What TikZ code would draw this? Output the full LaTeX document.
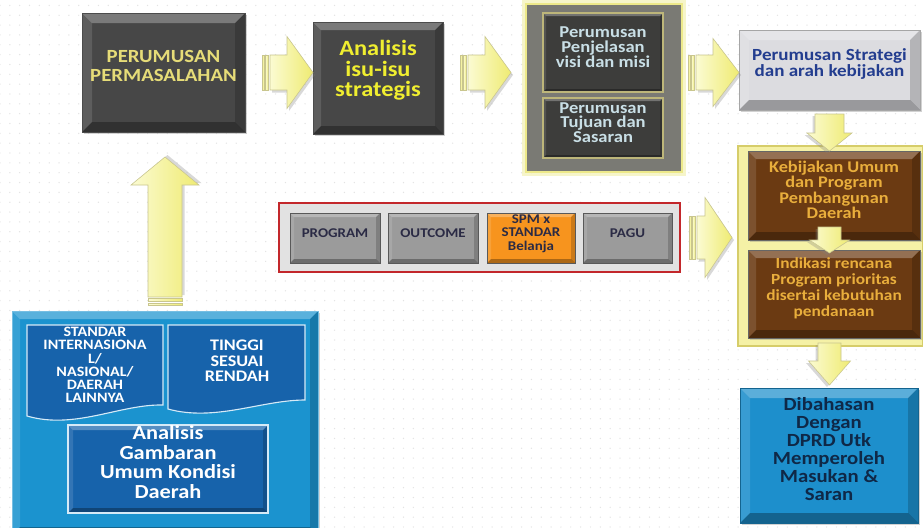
\documentclass[tikz,border=0pt]{standalone}
\usepackage{fontspec}
\setmainfont{Carlito}[FakeStretch=1.12]
\usetikzlibrary{fit,calc,patterns.meta,shadows}

\definecolor{darkbox}{HTML}{474747}
\definecolor{permtext}{HTML}{E6DC78}
\definecolor{isutext}{HTML}{F0EE30}
\definecolor{groupgrey}{HTML}{7A7A74}
\definecolor{glowyellow}{HTML}{EDE98A}
\definecolor{visibox}{HTML}{3D3D3B}
\definecolor{visiedge}{HTML}{BDB67A}
\definecolor{visitext}{HTML}{C9DFE6}
\definecolor{stratbox}{HTML}{DCDCE0}
\definecolor{strattext}{HTML}{233D8F}
\definecolor{kebgroup}{HTML}{F5F1A6}
\definecolor{kebedge}{HTML}{D6CD6A}
\definecolor{brownbox}{HTML}{6B3A12}
\definecolor{kebtext}{HTML}{E9AE3C}
\definecolor{dprdbox}{HTML}{1D8FCC}
\definecolor{dprdtext}{HTML}{0F2847}
\definecolor{redframe}{HTML}{C3272B}
\definecolor{redfill}{HTML}{E2E2E2}
\definecolor{greybtn}{HTML}{9B9B9B}
\definecolor{btntext}{HTML}{2B2B45}
\definecolor{orangebtn}{HTML}{F7941E}
\definecolor{bigblue}{HTML}{1B93CF}
\definecolor{deepblue}{HTML}{1763AB}
\definecolor{paleedge}{HTML}{D5EAF7}
\definecolor{arrowlight}{HTML}{FBFBD2}
\definecolor{arrowdark}{HTML}{EFEB72}
\definecolor{arrowedge}{HTML}{C9C68E}

% faint dotted paper
\tikzdeclarepattern{
  name=sparsedots,
  type=uncolored,
  bounding box={(-3.5pt,-3.5pt) and (3.5pt,3.5pt)},
  tile size={(7pt,7pt)},
  code={\fill (0pt,0pt) circle [radius=0.5pt];}
}

% light top/left and dark bottom/right edges inside a box
\newcommand\bevelpaint[1]{%
  \path (path picture bounding box.north west) coordinate (pNW)
        (path picture bounding box.north east) coordinate (pNE)
        (path picture bounding box.south west) coordinate (pSW)
        (path picture bounding box.south east) coordinate (pSE);
  \fill[white,opacity=.28] (pNW) -- (pNE) -- ([shift={(-#1,#1)}]pNE) -- ([shift={(#1,#1)}]pNW) -- cycle;
  \fill[white,opacity=.12] (pNW) -- ([shift={(#1,#1)}]pNW) -- ([shift={(#1,-#1)}]pSW) -- (pSW) -- cycle;
  \fill[black,opacity=.30] (pSW) -- ([shift={(#1,-#1)}]pSW) -- ([shift={(-#1,-#1)}]pSE) -- (pSE) -- cycle;
  \fill[black,opacity=.18] (pNE) -- (pSE) -- ([shift={(-#1,-#1)}]pSE) -- ([shift={(-#1,#1)}]pNE) -- cycle;
}

% yellow block arrow: tip, rotation, body length, head length,
% head half-width, shaft half-width, tail stripes (0/1)
\newcommand\blockarrow[7]{%
  \begin{scope}[shift={(#1)}, rotate=#2]
    \fill[gray, opacity=.3, shift={(2,2.5)}]
      (0,0) -- ++(-#4,-#5) -- ++(0,#5-#6) -- ++(-#3+#4,0) -- ++(0,2*#6)
      -- ++(#3-#4,0) -- ++(0,#5-#6) -- cycle;
    \path[arrowbody]
      (0,0) -- ++(-#4,-#5) -- ++(0,#5-#6) -- ++(-#3+#4,0) -- ++(0,2*#6)
      -- ++(#3-#4,0) -- ++(0,#5-#6) -- cycle;
    \ifnum#7>0
      \path[arrowbody] (-#3-1.5,-#6) rectangle (-#3-4.5,#6);
      \path[arrowbody] (-#3-6,-#6) rectangle (-#3-8,#6);
    \fi
  \end{scope}}

\begin{document}
\begin{tikzpicture}[x=0.25mm, y=-0.25mm,
  box/.style={inner sep=0pt, outer sep=0pt, align=center},
  bevel/.style={path picture={\bevelpaint{#1}}},
  shadowed/.style={drop shadow={shadow xshift=1.5pt, shadow yshift=-1.5pt, opacity=.35}},
  arrowbody/.style={left color=arrowlight, right color=arrowdark, draw=arrowedge, line width=0.4pt},
  btn/.style={box, fill=greybtn, draw=gray!70!black, line width=0.3pt, bevel=4, text=btntext,
    font=\fontsize{9.5}{9.6}\selectfont\bfseries},
  doc/.style={fill=deepblue, draw=paleedge, line width=0.8pt},
]
\useasboundingbox (0,0) rectangle (923,527);
\fill[white] (0,0) rectangle (923,527);
\fill[pattern=sparsedots, pattern color=gray!22] (0,0) rectangle (923,527);

% ---------- top row ----------
\node[box, shadowed, fit={(82,13) (245,132)}, fill=darkbox, draw=black!70, line width=0.4pt,
      bevel=10, text=permtext, font=\fontsize{13.2}{13.5}\selectfont\bfseries]
      (perm) {PERUMUSAN\\PERMASALAHAN};

\node[box, shadowed, fit={(313,22) (443,134)}, fill=darkbox, draw=black!70, line width=0.4pt,
      bevel=8, text=isutext, font=\fontsize{15.5}{14.5}\selectfont\bfseries]
      (isu) {Analisis\\isu-isu\\strategis};

\node[box, fit={(526,4) (682,172)}, fill=groupgrey, draw=glowyellow, line width=1.5pt,
      preaction={draw=glowyellow, line width=6pt, opacity=.45}]
      (visigroup) {};
\node[box, fit={(543,13) (663,92)}, fill=visibox, draw=visiedge, line width=0.8pt,
      bevel=3, text=visitext, font=\fontsize{11.8}{10.7}\selectfont\bfseries]
      (visi) {Perumusan\\Penjelasan\\visi dan misi};
\node[box, fit={(543,98) (663,158)}, fill=visibox, draw=visiedge, line width=0.8pt,
      bevel=3, text=visitext, font=\fontsize{11.8}{10.4}\selectfont\bfseries]
      (tujuan) {Perumusan\\Tujuan dan\\Sasaran};

\node[box, shadowed, fit={(739,30) (920,110)}, fill=stratbox, draw=gray!70, line width=0.5pt,
      bevel=10, text=strattext, font=\fontsize{12.1}{11.4}\selectfont\bfseries]
      (strat) {Perumusan Strategi\\dan arah kebijakan};

% ---------- right column ----------
\node[box, fit={(738,146) (923,346)}, fill=kebgroup, draw=kebedge, line width=0.8pt]
      (kebgroup) {};
\node[box, shadowed, fit={(748,151) (920,240)}, fill=brownbox, draw=black!60, line width=0.4pt,
      bevel=8, text=kebtext, font=\fontsize{11.6}{10.8}\selectfont\bfseries]
      (keb) {Kebijakan Umum\\dan Program\\Pembangunan\\Daerah};
\node[box, shadowed, fit={(748,250) (920,338)}, fill=brownbox, draw=black!60, line width=0.4pt,
      bevel=8, text=kebtext, font=\fontsize{11}{11.4}\selectfont\bfseries]
      (indikasi) {Indikasi rencana\\Program prioritas\\disertai kebutuhan\\pendanaan};

\node[box, shadowed, fit={(740,388) (918,523)}, fill=dprdbox, draw=dprdbox!70!black, line width=0.4pt,
      bevel=10, text=dprdtext, font=\fontsize{13.2}{12.9}\selectfont\bfseries]
      (dprd) {Dibahasan\\Dengan\\DPRD Utk\\Memperoleh\\Masukan \&\\Saran};

% ---------- middle row ----------
\node[box, fit={(279,203) (680,272)}, fill=redfill, draw=redframe, line width=1.4pt]
      (belanja) {};
\node[btn, fit={(290,213) (380,263)}] (program) {PROGRAM};
\node[btn, fit={(388,213) (478,263)}] (outcome) {OUTCOME};
\node[btn, fit={(487,213) (575,263)}, fill=orangebtn] (spm) {SPM x\\STANDAR\\Belanja};
\node[btn, fit={(583,213) (672,263)}] (pagu) {PAGU};

% ---------- lower left ----------
\node[box, shadowed, fit={(12,311) (318,535)}, fill=bigblue, draw=bigblue!60!white, line width=0.6pt,
      bevel=8] (kondisi) {};

\draw[doc] (27,325) -- (163,325) -- (163,405)
  .. controls (120,404) and (75,430) .. (27,416) -- cycle;
\node[box, text=white, font=\fontsize{10.2}{9.4}\selectfont\bfseries]
  (standar) at (95,365) {STANDAR\\INTERNASIONA\\L/\\NASIONAL/\\DAERAH\\LAINNYA};

\draw[doc] (168,325) -- (305,325) -- (305,400)
  .. controls (262,400) and (215,422) .. (168,409) -- cycle;
\node[box, text=white, font=\fontsize{11.5}{11}\selectfont\bfseries]
  (tinggi) at (237,361) {TINGGI\\SESUAI\\RENDAH};

\node[box, fit={(68,425) (268,513)}, doc, bevel=5, text=white,
      font=\fontsize{14.2}{14}\selectfont\bfseries]
      (gambaran) {Analisis\\Gambaran\\Umum Kondisi\\Daerah};

% ---------- block arrows ----------
\blockarrow{isu.west |- perm.east}{0}{43}{26}{36}{17.5}{1}
\blockarrow{$(visigroup.west |- perm.east)+(-15,0)$}{0}{43}{26}{36}{17.5}{1}
\blockarrow{strat.west |- perm.east}{0}{43}{26}{34}{17.5}{1}
\blockarrow{$(kebgroup.west |- belanja.east)+(-6,0)$}{0}{35}{27}{40}{21.5}{1}
\blockarrow{strat.south |- keb.north}{-90}{37}{18}{22.5}{14.5}{0}
\blockarrow{$(strat.south |- indikasi.north)+(0,3)$}{-90}{26}{13}{20}{11.5}{0}
\blockarrow{$(strat.south |- dprd.north)+(0,-3)$}{-90}{42}{24}{21}{11.5}{0}
\blockarrow{$(kondisi.north)+(0,-154)$}{90}{140}{28}{34}{17}{1}
\end{tikzpicture}
\end{document}
